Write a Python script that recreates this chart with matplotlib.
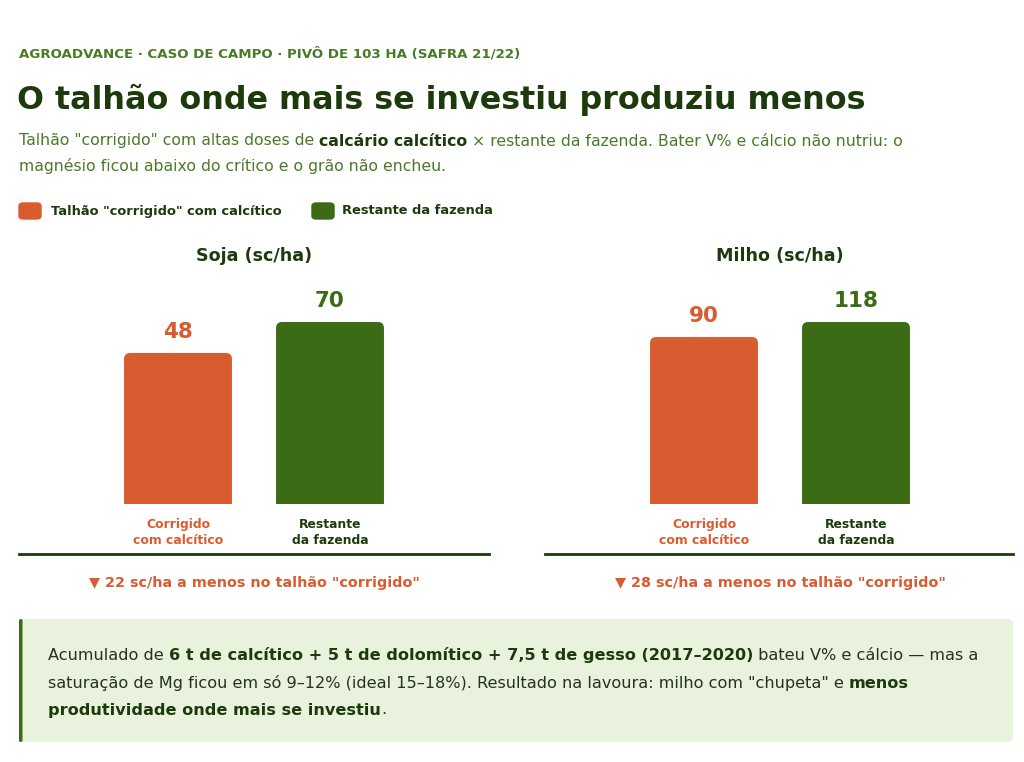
import matplotlib
matplotlib.use("Agg")
import matplotlib.pyplot as plt
from matplotlib.patches import FancyBboxPatch
from matplotlib.lines import Line2D

# dados
culturas = ["Soja (sc/ha)", "Milho (sc/ha)"]
categorias = ["Corrigido\ncom calcítico", "Restante\nda fazenda"]
soja = [48, 70]
milho = [90, 118]
valores = [soja, milho]
notas = ['\u25bc 22 sc/ha a menos no talhão "corrigido"',
         '\u25bc 28 sc/ha a menos no talhão "corrigido"']
legenda = ['Talhão "corrigido" com calcítico', "Restante da fazenda"]

LARANJA = "#d95b30"
VERDE = "#3b6b14"
ESCURO = "#1c3a0c"
VERDE_TXT = "#4a7a26"
HEAD = "DejaVu Sans"
BODY = "DejaVu Sans"

W, H = 1024, 762
fig = plt.figure(figsize=(W / 100, H / 100), dpi=100)
fig.patch.set_facecolor("white")
renderer = fig.canvas.get_renderer()


def fx(x):
    return x / W


def fy(y):
    return 1 - y / H


def largura(txt, **kw):
    t = fig.text(0, 0, txt + ".", **kw)
    p = fig.text(0, 0, ".", **kw)
    w = t.get_window_extent(renderer).width - p.get_window_extent(renderer).width
    t.remove()
    p.remove()
    return w


def linha_rica(x, y, partes, size, family, cor_normal, cor_bold):
    for txt, bold in partes:
        kw = dict(fontsize=size, family=family,
                  fontweight="bold" if bold else "normal")
        fig.text(fx(x), fy(y), txt, va="center", ha="left",
                 color=cor_bold if bold else cor_normal, **kw)
        x += largura(txt, **kw)


# cabeçalho
fig.text(fx(19), fy(54), "AGROADVANCE · CASO DE CAMPO · PIVÔ DE 103 HA (SAFRA 21/22)",
         fontsize=9.6, fontweight="bold", family=HEAD, color=VERDE_TXT, va="center")
fig.text(fx(17), fy(100), "O talhão onde mais se investiu produziu menos",
         fontsize=22.9, fontweight="heavy", family=HEAD, color=ESCURO, va="center")
linha_rica(19, 141, [('Talhão "corrigido" com altas doses de ', False),
                     ("calcário calcítico", True),
                     (" × restante da fazenda. Bater V% e cálcio não nutriu: o", False)],
           11.3, BODY, VERDE_TXT, ESCURO)
linha_rica(19, 166, [("magnésio ficou abaixo do crítico e o grão não encheu.", False)],
           11.3, BODY, VERDE_TXT, ESCURO)

# legenda
for (x0, xt), txt, cor in zip([(19, 51), (312, 342)], legenda, [LARANJA, VERDE]):
    fig.patches.append(FancyBboxPatch((fx(x0), fy(219)), fx(22), 16 / H,
                                      boxstyle="round,pad=0,rounding_size=0.004",
                                      transform=fig.transFigure, color=cor))
    fig.text(fx(xt), fy(211), txt, fontsize=9.4, fontweight="bold", family=HEAD,
             color=ESCURO, va="center")

# painéis
paineis = [(19, 489, -59.2, 92.7), (545, 1013, -221.7, 177.8)]
for (x0, x1, piso, teto), titulo, vals, nota in zip(paineis, culturas, valores, notas):
    ax = fig.add_axes([fx(x0), fy(504), fx(x1 - x0), 214 / H])
    ax.set_xlim((x0 - (x0 + 159)) / 152, (x1 - (x0 + 159)) / 152)
    ax.set_ylim(piso, teto)
    xs = range(len(vals))
    barras = ax.bar(xs, [v - piso for v in vals], bottom=piso, width=0.71,
                    color=[LARANJA, VERDE])
    # cantos superiores arredondados
    aspecto = 152 / (214 / (teto - piso))
    for r in barras:
        r.set_visible(False)
        extra = 0.1 * (teto - piso)
        ax.add_patch(FancyBboxPatch((r.get_x(), r.get_y() - extra), r.get_width(),
                                    r.get_height() + extra,
                                    boxstyle="round,pad=0,rounding_size=0.04",
                                    mutation_aspect=aspecto,
                                    facecolor=r.get_facecolor(), edgecolor="none"))
    for x, v, cor in zip(xs, vals, [LARANJA, VERDE]):
        ax.annotate(str(v), (x, v), xytext=(0, 15), textcoords="offset points",
                    ha="center", va="center", fontsize=15.5, fontweight="bold",
                    family=HEAD, color=cor)
    ax.set_xticks(list(xs))
    ax.set_xticklabels(categorias, fontsize=8.9, fontweight="bold", family=HEAD,
                       linespacing=1.35)
    for lab, cor in zip(ax.get_xticklabels(), [LARANJA, ESCURO]):
        lab.set_color(cor)
    ax.tick_params(axis="x", length=0, pad=10)
    ax.set_yticks([])
    for s in ax.spines.values():
        s.set_visible(False)
    ax.set_facecolor("none")
    cx = x0 + 159 + 76
    fig.text(fx(cx), fy(256), titulo, ha="center", va="center", fontsize=12.6,
             fontweight="bold", family=HEAD, color=ESCURO)
    fig.lines.append(Line2D([fx(x0), fx(x1)], [fy(554), fy(554)], color=ESCURO,
                            lw=2, transform=fig.transFigure))
    fig.text(fx(cx), fy(583), nota, ha="center", va="center", fontsize=10.4,
             fontweight="bold", family=HEAD, color=LARANJA)

# caixa de conclusão
fig.patches.append(FancyBboxPatch((fx(19), fy(742)), fx(994), 123 / H,
                                  boxstyle="round,pad=0,rounding_size=0.006",
                                  transform=fig.transFigure, facecolor="#e9f2dd",
                                  edgecolor="none"))
fig.patches.append(FancyBboxPatch((fx(19), fy(742)), fx(3.5), 123 / H,
                                  boxstyle="round,pad=0,rounding_size=0.002",
                                  transform=fig.transFigure, facecolor=VERDE,
                                  edgecolor="none"))
corpo = "#25331b"
linha_rica(48, 655, [("Acumulado de ", False),
                     ("6 t de calcítico + 5 t de dolomítico + 7,5 t de gesso (2017–2020)", True),
                     (" bateu V% e cálcio — mas a", False)],
           11.65, BODY, corpo, ESCURO)
linha_rica(48, 683, [('saturação de Mg ficou em só 9–12% (ideal 15–18%). Resultado na lavoura: milho com "chupeta" e ', False),
                     ("menos", True)],
           11.65, BODY, corpo, ESCURO)
linha_rica(48, 710, [("produtividade onde mais se investiu", True), (".", False)],
           11.65, BODY, corpo, ESCURO)

fig.savefig("out.png", dpi=100)
